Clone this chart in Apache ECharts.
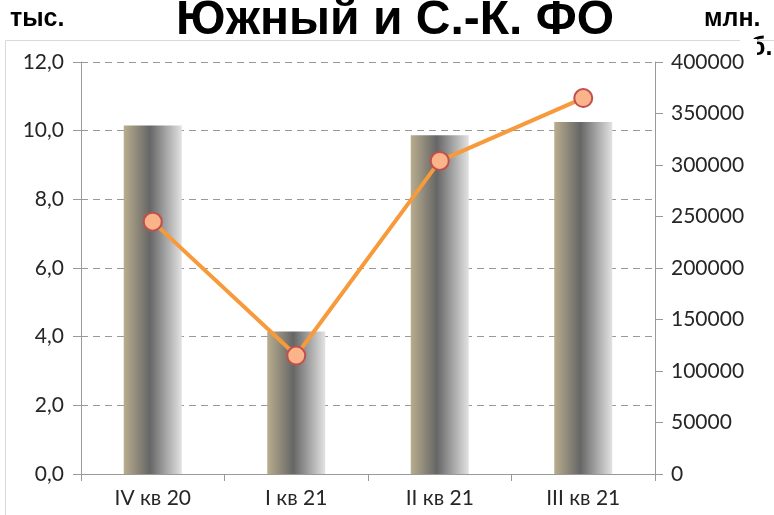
<!DOCTYPE html>
<html>
<head>
<meta charset="utf-8">
<script src="https://cdn.jsdelivr.net/npm/echarts@6/dist/echarts.min.js"></script>
<style>
  html, body { margin: 0; padding: 0; background: #fff; }
  #chart { width: 774px; height: 515px; }
</style>
</head>
<body>
<div id="chart"></div>
<script>
// данные
var categories = ['IV кв 20', 'I кв 21', 'II кв 21', 'III кв 21'];
var barValues = [10.15, 4.15, 9.87, 10.25];       // тыс.
var lineValues = [245000, 115000, 304000, 365000]; // млн. руб.
var leftTicks = [0, 12, 2];
var rightTicks = [0, 400000, 50000];

var myChart = echarts.init(document.getElementById('chart'));

var barGradient = new echarts.graphic.LinearGradient(0, 0, 1, 0, [
    { offset: 0, color: '#b9ad8e' },
    { offset: 0.45, color: '#666666' },
    { offset: 1, color: '#e2e2e2' }
]);

var labelFont = { fontFamily: 'Lato', fontSize: 21, color: '#262626' };

var option = {
    animation: false,
    graphic: [
        {
            type: 'rect', left: 3, top: 38,
            shape: { width: 780, height: 490 },
            style: { fill: 'none', stroke: '#d9d9d9', lineWidth: 1 },
            z: -1
        },
        {
            type: 'text', left: 10, top: 7,
            style: { text: 'тыс.', font: 'bold 25px "Liberation Sans"', fill: '#000' }
        },
        {
            type: 'text', left: 704, top: 7,
            style: { text: 'млн.', font: 'bold 25px "Liberation Sans"', fill: '#000' }
        },
        {
            type: 'text', left: 750, top: 36,
            style: { text: 'б.', font: 'bold 25px "Liberation Sans"', fill: '#000' },
            z: -2
        },
        {
            type: 'rect', left: 740, top: 39,
            shape: { width: 17, height: 24 },
            style: { fill: '#fff' },
            z: -1
        },
        {
            type: 'text', left: 176, top: -3,
            style: { text: 'Южный и С.-К. ФО', font: 'bold 48px "Liberation Sans"', fill: '#000' }
        }
    ],
    grid: {
        left: 81,
        right: 119,
        top: 62,
        bottom: 41
    },
    xAxis: [
        {
            type: 'category',
            data: categories,
            boundaryGap: true,
            axisLine: { lineStyle: { color: '#999', width: 1 } },
            axisTick: { show: true, length: 7, lineStyle: { color: '#999' } },
            axisLabel: Object.assign({ margin: 14 }, labelFont)
        }
    ],
    yAxis: [
        {
            type: 'value',
            min: leftTicks[0],
            max: leftTicks[1],
            interval: leftTicks[2],
            axisLine: { show: true, lineStyle: { color: '#999' } },
            axisTick: { show: true, length: 8, lineStyle: { color: '#999' } },
            splitLine: { show: true, lineStyle: { color: '#999', type: [7, 5] } },
            axisLabel: Object.assign({
                margin: 17,
                formatter: function (v) { return v.toFixed(1).replace('.', ','); }
            }, labelFont)
        },
        {
            type: 'value',
            min: rightTicks[0],
            max: rightTicks[1],
            interval: rightTicks[2],
            position: 'right',
            axisLine: { show: true, lineStyle: { color: '#999' } },
            axisTick: { show: true, length: 8, lineStyle: { color: '#999' } },
            splitLine: { show: false },
            axisLabel: Object.assign({
                margin: 16,
                formatter: function (v) { return String(v); }
            }, labelFont)
        }
    ],
    series: [
        {
            name: 'тыс.',
            type: 'bar',
            data: barValues,
            barWidth: 58,
            itemStyle: { color: barGradient }
        },
        {
            name: 'млн. руб.',
            type: 'line',
            yAxisIndex: 1,
            data: lineValues,
            symbol: 'circle',
            symbolSize: 18,
            lineStyle: { color: '#f79a3c', width: 4 },
            itemStyle: { color: '#fbb48a', borderColor: '#c0504d', borderWidth: 2 }
        }
    ]
};

myChart.setOption(option);
</script>
</body>
</html>
